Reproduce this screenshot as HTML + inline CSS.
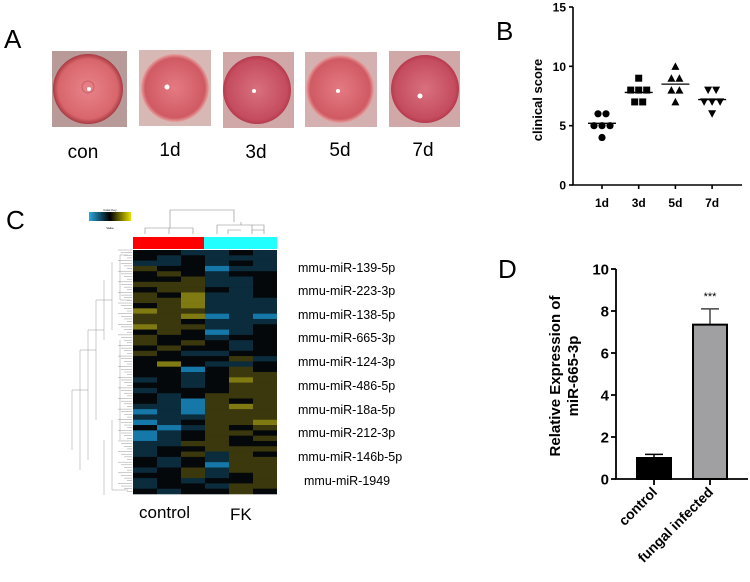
<!DOCTYPE html>
<html><head><meta charset="utf-8"><style>
body{margin:0;background:#fff;width:750px;height:582px;overflow:hidden;font-family:"Liberation Sans",Arial,sans-serif}
svg{display:block}
</style></head><body>
<svg width="750" height="582" viewBox="0 0 750 582">
<defs>
<radialGradient id="eye0" cx="50%" cy="50%" r="50%"><stop offset="0" stop-color="#e8848a"/><stop offset="0.85" stop-color="#d8666c"/><stop offset="1" stop-color="#a83a42"/></radialGradient>
<radialGradient id="eye1" cx="50%" cy="50%" r="50%"><stop offset="0" stop-color="#e47a82"/><stop offset="0.88" stop-color="#d05a64"/><stop offset="1" stop-color="#e6a2a0"/></radialGradient>
<radialGradient id="eye2" cx="50%" cy="50%" r="50%"><stop offset="0" stop-color="#d9707e"/><stop offset="0.88" stop-color="#c44c5e"/><stop offset="1" stop-color="#b63a4e"/></radialGradient>
<linearGradient id="cbar" x1="0" x2="1"><stop offset="0" stop-color="#2aa9e0"/><stop offset="0.5" stop-color="#000"/><stop offset="1" stop-color="#e8e000"/></linearGradient>
</defs>
<text x="4" y="48" font-size="26">A</text>
<g>
<rect x="52" y="51" width="75" height="76" fill="#b89a98"/><circle cx="88" cy="89" r="35" fill="url(#eye0)"/><circle cx="88" cy="87" r="6" fill="none" stroke="#c86068"/><circle cx="89" cy="89" r="2" fill="#fff"/>
<rect x="139" y="50" width="72" height="76" fill="#d8b8b4"/><circle cx="175" cy="88" r="34" fill="url(#eye1)"/><circle cx="167" cy="87" r="2.5" fill="#fff"/>
<rect x="223" y="52" width="71" height="76" fill="#d0a8a8"/><circle cx="257" cy="90" r="34" fill="url(#eye2)"/><circle cx="254" cy="91" r="2" fill="#fff"/>
<rect x="305" y="52" width="72" height="75" fill="#d4b0b0"/><circle cx="340" cy="89" r="34" fill="url(#eye1)"/><circle cx="338" cy="91" r="2" fill="#fff"/>
<rect x="389" y="51" width="71" height="76" fill="#d0a8a8"/><circle cx="425" cy="89" r="34" fill="url(#eye2)"/><circle cx="420" cy="96" r="2.5" fill="#fff"/>
</g>
<g font-size="19" text-anchor="middle">
<text x="83" y="158">con</text><text x="170" y="156">1d</text><text x="256" y="158">3d</text><text x="340" y="156">5d</text><text x="423" y="156">7d</text>
</g>
<text x="496" y="40" font-size="26">B</text>
<g id="chartB"></g>
<text x="6" y="229" font-size="26">C</text>
<g><rect x="89" y="212" width="42" height="9" fill="url(#cbar)"/><text x="110" y="211" font-size="3" text-anchor="middle">Color Key</text><text x="110" y="229" font-size="3" text-anchor="middle">Value</text></g>
<g stroke="#888" stroke-width="0.6" fill="none">
<path d="M145 234V228H193V234M170 228V210H234V222M169 234V228M217 234V225H264V234M241 225V222M228 234V230H241M252 234V230H264M252 230V225"/>
</g>
<rect x="133" y="237" width="71" height="12" fill="#ff0000"/>
<rect x="204" y="237" width="73" height="12" fill="#22ffff"/>
<g id="heat"></g>
<g id="rowdendro" stroke="#999" stroke-width="0.5" fill="none"></g>
<g font-size="12.5">
<text x="298" y="272">mmu-miR-139-5p</text><text x="298" y="295">mmu-miR-223-3p</text><text x="298" y="319">mmu-miR-138-5p</text><text x="298" y="342">mmu-miR-665-3p</text><text x="298" y="366">mmu-miR-124-3p</text><text x="298" y="390">mmu-miR-486-5p</text><text x="298" y="414">mmu-miR-18a-5p</text><text x="298" y="437">mmu-miR-212-3p</text><text x="298" y="461">mmu-miR-146b-5p</text><text x="304" y="485">mmu-miR-1949</text>
</g>
<text x="139" y="518" font-size="17">control</text>
<text x="230" y="520" font-size="17">FK</text>
<text x="498" y="278" font-size="26">D</text>
<g id="chartD"></g>
</svg>
<script>
const NS="http://www.w3.org/2000/svg";
function mk(p,t,a){const e=document.createElementNS(NS,t);for(const k in a)e.setAttribute(k,a[k]);p.appendChild(e);return e;}
// ---- Panel B data
const bCats=["1d","3d","5d","7d"];
const bVals=[[6,6,5,5,5,4],[9,8,8,8,7,7],[10,9,9,8,8,7],[8,8,7,7,7,6]];
const bMeans=[5.2,7.8,8.5,7.2];
const bTicks=[0,5,10,15];
const bMarkers=["circle","square","triangle","tri-down"];
(function(){
 const g=document.getElementById('chartB');
 const y=v=>185-v*(178/15), x=i=>602+i*36.7;
 mk(g,'path',{d:'M573 7V185H742',stroke:'#000','stroke-width':1.6,fill:'none'});
 bTicks.forEach(t=>{mk(g,'line',{x1:569,x2:573,y1:y(t),y2:y(t),stroke:'#000','stroke-width':1.6});
  const tx=mk(g,'text',{x:566,y:y(t)+4.5,'font-size':12,'font-weight':'bold','text-anchor':'end'});tx.textContent=t;
  
  });
 const yt=mk(g,'text',{x:0,y:0,'font-size':13,'font-weight':'bold','text-anchor':'middle',transform:'translate(542,100) rotate(-90)'});yt.textContent='clinical score';
 
 
 bCats.forEach((c,i)=>{
  mk(g,'line',{x1:x(i),x2:x(i),y1:185,y2:189,stroke:'#000','stroke-width':1.6});
  const t=mk(g,'text',{x:x(i),y:207,'font-size':12,'font-weight':'bold','text-anchor':'middle'});t.textContent=c;
  
  
  const counts={};
  const vs=bVals[i];
  vs.forEach(v=>counts[v]=(counts[v]||0)+1);
  const seen={};
  vs.forEach(v=>{const n=counts[v],k=seen[v]=(seen[v]||0);seen[v]++;
   const cx=x(i)+(k-(n-1)/2)*8,cy=y(v);let m;
   if(bMarkers[i]=="circle")m=mk(g,'circle',{cx:cx,cy:cy,r:3.6});
   else if(bMarkers[i]=="square")m=mk(g,'rect',{x:cx-3.5,y:cy-3.5,width:7,height:7});
   else if(bMarkers[i]=="triangle")m=mk(g,'path',{d:`M${cx} ${cy-4}L${cx+4} ${cy+3.5}L${cx-4} ${cy+3.5}Z`});
   else m=mk(g,'path',{d:`M${cx} ${cy+4}L${cx+4} ${cy-3.5}L${cx-4} ${cy-3.5}Z`});
   
   });
  const ml=mk(g,'line',{x1:x(i)-14,x2:x(i)+14,y1:y(bMeans[i]),y2:y(bMeans[i]),stroke:'#000','stroke-width':1.3});
  
  
 });
})();
// ---- Panel D data
const dCats=["control","fungal infected"];
const dVals=[1.0,7.35];
const dErr=[0.17,0.75];
const dTicks=[0,2,4,6,8,10];
const dFill=["#000","#a0a0a2"];
(function(){
 const g=document.getElementById('chartD');
 const y=v=>479-v*21, xc=i=>654+i*56;
 mk(g,'path',{d:'M616 269V479H748',stroke:'#000','stroke-width':1.8,fill:'none'});
 dTicks.forEach(t=>{mk(g,'line',{x1:611,x2:616,y1:y(t),y2:y(t),stroke:'#000','stroke-width':1.8});
  const tx=mk(g,'text',{x:609,y:y(t)+5.5,'font-size':15,'font-weight':'bold','text-anchor':'end'});tx.textContent=t;
  
  });
 const t1=mk(g,'text',{x:0,y:0,'font-size':15,'font-weight':'bold','text-anchor':'middle',transform:'translate(560,376) rotate(-90)'});t1.textContent='Relative Expression of';
 
 
 const t2=mk(g,'text',{x:0,y:0,'font-size':15,'font-weight':'bold','text-anchor':'middle',transform:'translate(578,376) rotate(-90)'});t2.textContent='miR-665-3p';
 
 
 dCats.forEach((c,i)=>{
  const x=xc(i);
  const e=mk(g,'path',{d:`M${x} ${y(dVals[i])}V${y(dVals[i]+dErr[i])}M${x-9} ${y(dVals[i]+dErr[i])}H${x+9}`,stroke:i?'#444':'#000','stroke-width':1.5,fill:'none'});
  
  
  const b=mk(g,'rect',{x:x-17,y:y(dVals[i]),width:34,height:479-y(dVals[i]),fill:dFill[i],stroke:'#000','stroke-width':2});
  
  
  mk(g,'line',{x1:x,x2:x,y1:479,y2:485,stroke:'#000','stroke-width':1.8});
  const t=mk(g,'text',{x:0,y:0,'font-size':14,'font-weight':'bold','text-anchor':'end',transform:`translate(${x+4},${493}) rotate(-45)`});t.textContent=c;
  
  
 });
 const s=mk(g,'text',{x:xc(1),y:y(dVals[1]+dErr[1])-9,'font-size':11,'text-anchor':'middle'});s.textContent='***';
 
 
})();
// ---- Heatmap data (rows top to bottom, 6 samples; B/b blue, 0 black, y/Y yellow)
const heatRows=[
"00bb0b","0b0bbb","bb0b0b","y00Bbb","0y0b00","00ybb0","yyybb0","0yy0b0","y0Ybb0","yyYbbb",
"0yYbbb","Yyybbb","yyYBbB","yy0bbb","Yyybb0","0y0Bb0","y00b00","y0y0b0","0y00b0","y0bb00",
"0000yb","0Y0bb0","00B0y0","00b0yy","b0b0Yy","00b0yy","b000yy","0b0yyy","0bBy0y","bbByYy",
"BbByyy","bbbyyy","Bb0yyY","0Bby0y","Bb0yy0","Bb0y0y","bbyy00","b00yyy","b0yby0","0b0byy",
"0b0Byy","b0ybyy","00yb0y","b0b00y","b00byy","0b00y0"];
const heatCols=6;
(function(){
 const g=document.getElementById('heat');
 const top=250,bot=494,left=133,cw=24,rh=(bot-top)/heatRows.length;
 const col={"B":"#1678a8","b":"#0a2c3c","0":"#05080a","y":"#3a380c","Y":"#807a12"};
 mk(g,'rect',{x:left,y:top,width:cw*heatCols,height:bot-top,fill:'#000'});
 heatRows.forEach((r,i)=>{for(let j=0;j<heatCols;j++){
  const c=mk(g,'rect',{x:left+j*cw,y:top+i*rh,width:cw,height:rh+0.3,fill:col[r[j]]});
  
  
 }});
 const d=document.getElementById('rowdendro');
 let p='';
 for(let i=0;i<heatRows.length*2;i++){const yy=top+i*(bot-top)/(heatRows.length*2);p+=`M132 ${yy}H${118+(i%4)*3}`;}
 p+='M120 255V300M112 262V330M104 280V340M96 300V420M88 330V460M80 350V470M72 390V450M120 340V440M112 420V490M104 440V495';
 p+='M96 300H112M88 330H104M80 350H96M72 390H88M120 255H128M120 300H130M112 490H128';
 mk(d,'path',{d:p});
})();
</script>
</body></html>
